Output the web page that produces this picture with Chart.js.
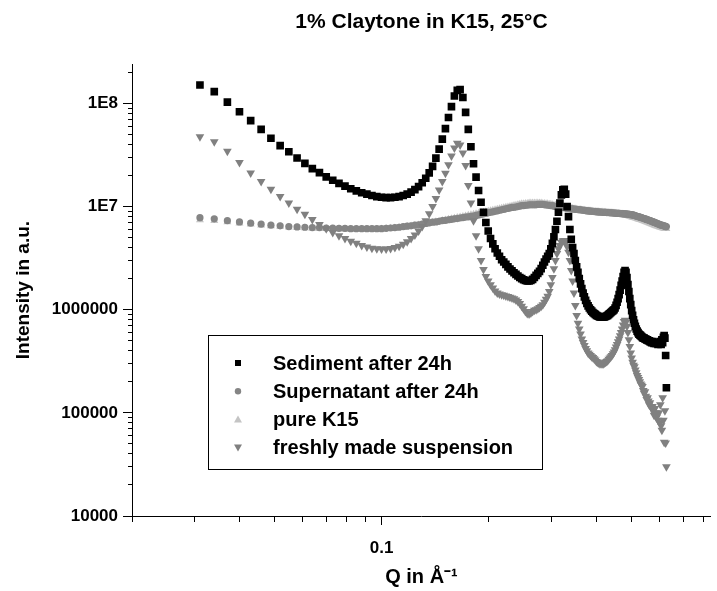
<!DOCTYPE html>
<html lang="en">
<head>
<meta charset="utf-8" />
<title>1% Claytone in K15, 25°C</title>
<script src="https://cdn.jsdelivr.net/npm/chart.js@4.4.1/dist/chart.umd.min.js"></script>
<style>
  body { margin: 0; background: #fff; overflow: hidden; }
  #wrap { width: 717px; height: 591px; }
</style>
</head>
<body>
<div id="wrap"><canvas id="saxs"></canvas></div>

<script>
// Q in 1/Angstrom, shared by all four measurements
const q = [
  0.031,0.034,0.037,0.040,0.043,0.046,0.049,0.052,0.055,0.058,
  0.061,0.064,0.067,0.070,0.073,0.076,0.079,0.082,0.085,0.088,
  0.091,0.094,0.097,0.100,0.103,0.106,0.109,0.112,0.115,0.118,
  0.121,0.124,0.127,0.130,0.133,0.136,0.139,0.142,0.145,0.148,
  0.151,0.154,0.157,0.160,0.163,0.166,0.169,0.172,0.175,0.178,
  0.181,0.184,0.187,0.190,0.193,0.196,0.199,0.202,0.205,0.208,
  0.211,0.214,0.217,0.220,0.223,0.226,0.229,0.232,0.235,0.238,
  0.241,0.244,0.247,0.250,0.253,0.256,0.259,0.262,0.265,0.268,
  0.271,0.274,0.277,0.280,0.283,0.286,0.289,0.292,0.295,0.298,
  0.301,0.304,0.307,0.310,0.313,0.316,0.319,0.322,0.325,0.328,
  0.331,0.334,0.337,0.340,0.343,0.346,0.349,0.352,0.355,0.358,
  0.361,0.364,0.367,0.370,0.373,0.376,0.379,0.382,0.385,0.388,
  0.391,0.394,0.397,0.400,0.403,0.406,0.409,0.412,0.415,0.418,
  0.421,0.424,0.427,0.430,0.433,0.436,0.439,0.442,0.445,0.448,
  0.451,0.454,0.457,0.460,0.463,0.466,0.469,0.472,0.475,0.478,
  0.481,0.484,0.487,0.490,0.493,0.496,0.499,0.502,0.505,0.508,
  0.511,0.514,0.517,0.520,0.523,0.526,0.529,0.532,0.535,0.538,
  0.541,0.544,0.547,0.550,0.553,0.556,0.559,0.562,0.565,0.568,
  0.571,0.574,0.577,0.580,0.583,0.586,0.589,0.592,0.595,0.598,
  0.601,0.604,0.607,0.610,0.613,0.616,0.619,0.622,0.625,0.628
];

const sediment = [
  1.51e8,1.30e8,1.03e8,8.3e7,6.8e7,5.6e7,4.6e7,3.9e7,3.4e7,2.96e7,
  2.62e7,2.33e7,2.13e7,1.94e7,1.80e7,1.68e7,1.58e7,1.49e7,1.42e7,1.36e7,
  1.32e7,1.28e7,1.25e7,1.23e7,1.22e7,1.22e7,1.23e7,1.25e7,1.28e7,1.32e7,
  1.38e7,1.46e7,1.56e7,1.70e7,1.88e7,2.12e7,2.45e7,2.95e7,3.6e7,4.5e7,
  5.7e7,7.3e7,9.3e7,1.18e8,1.34e8,1.36e8,1.14e8,8.2e7,5.6e7,3.8e7,
  2.6e7,1.93e7,1.43e7,1.10e7,8.8e6,7.0e6,5.8e6,4.9e6,4.35e6,3.9e6,
  3.55e6,3.3e6,3.05e6,2.9e6,2.75e6,2.6e6,2.48e6,2.38e6,2.28e6,2.2e6,
  2.12e6,2.05e6,2.0e6,1.95e6,1.92e6,1.9e6,1.9e6,1.92e6,1.97e6,2.05e6,
  2.15e6,2.25e6,2.35e6,2.5e6,2.7e6,2.9e6,3.1e6,3.3e6,3.5e6,3.9e6,
  4.4e6,5.1e6,6.0e6,7.2e6,8.8e6,1.08e7,1.3e7,1.45e7,1.47e7,1.32e7,
  1.0e7,8.0e6,6.0e6,4.8e6,4.0e6,3.5e6,3.0e6,2.6e6,2.3e6,2.0e6,
  1.78e6,1.6e6,1.45e6,1.33e6,1.23e6,1.15e6,1.09e6,1.04e6,1.0e6,9.7e5,
  9.4e5,9.2e5,9.0e5,8.8e5,8.7e5,8.6e5,8.5e5,8.5e5,8.5e5,8.5e5,
  8.5e5,8.6e5,8.7e5,8.8e5,9.0e5,9.2e5,9.4e5,9.6e5,9.8e5,1.0e6,
  1.04e6,1.1e6,1.18e6,1.28e6,1.4e6,1.55e6,1.72e6,1.9e6,2.1e6,2.3e6,
  2.4e6,2.3e6,2.05e6,1.75e6,1.5e6,1.28e6,1.12e6,9.8e5,8.8e5,8.0e5,
  7.4e5,6.9e5,6.5e5,6.2e5,6.0e5,5.8e5,5.7e5,5.6e5,5.5e5,5.4e5,
  5.3e5,5.3e5,5.2e5,5.2e5,5.1e5,5.1e5,5.0e5,5.0e5,4.9e5,4.9e5,
  4.8e5,4.9e5,4.8e5,4.7e5,4.8e5,4.7e5,4.8e5,4.7e5,4.6e5,4.8e5,
  4.7e5,4.9e5,4.6e5,5.1e5,4.8e5,5.4e5,5.6e5,5.3e5,3.6e5,1.75e5
];

const supernatant = [
  7.8e6,7.6e6,7.3e6,7.1e6,6.9e6,6.75e6,6.6e6,6.5e6,6.4e6,6.35e6,
  6.3e6,6.25e6,6.25e6,6.2e6,6.2e6,6.15e6,6.15e6,6.1e6,6.1e6,6.1e6,
  6.1e6,6.1e6,6.1e6,6.1e6,6.15e6,6.2e6,6.25e6,6.3e6,6.4e6,6.45e6,
  6.5e6,6.6e6,6.65e6,6.75e6,6.85e6,6.95e6,7.05e6,7.1e6,7.2e6,7.3e6,
  7.35e6,7.45e6,7.5e6,7.6e6,7.65e6,7.75e6,7.8e6,7.9e6,7.95e6,8.05e6,
  8.1e6,8.2e6,8.3e6,8.4e6,8.5e6,8.6e6,8.7e6,8.8e6,8.9e6,9.0e6,
  9.1e6,9.2e6,9.3e6,9.4e6,9.5e6,9.6e6,9.7e6,9.8e6,9.85e6,9.9e6,
  1.0e7,1.01e7,1.02e7,1.02e7,1.03e7,1.03e7,1.04e7,1.04e7,1.04e7,1.04e7,
  1.04e7,1.05e7,1.05e7,1.05e7,1.05e7,1.04e7,1.04e7,1.03e7,1.03e7,1.02e7,
  1.02e7,1.01e7,1.0e7,1.0e7,9.95e6,9.9e6,9.85e6,9.8e6,9.75e6,9.7e6,
  9.65e6,9.6e6,9.55e6,9.5e6,9.5e6,9.45e6,9.4e6,9.4e6,9.35e6,9.3e6,
  9.3e6,9.25e6,9.2e6,9.2e6,9.15e6,9.1e6,9.1e6,9.05e6,9.05e6,9.0e6,
  9.0e6,8.95e6,8.95e6,8.9e6,8.9e6,8.85e6,8.85e6,8.85e6,8.8e6,8.8e6,
  8.8e6,8.8e6,8.75e6,8.75e6,8.75e6,8.7e6,8.7e6,8.7e6,8.65e6,8.65e6,
  8.65e6,8.6e6,8.6e6,8.6e6,8.6e6,8.55e6,8.55e6,8.55e6,8.5e6,8.5e6,
  8.5e6,8.5e6,8.45e6,8.45e6,8.4e6,8.4e6,8.35e6,8.35e6,8.3e6,8.25e6,
  8.2e6,8.15e6,8.1e6,8.05e6,8.0e6,7.95e6,7.9e6,7.85e6,7.8e6,7.75e6,
  7.7e6,7.65e6,7.6e6,7.55e6,7.5e6,7.45e6,7.4e6,7.35e6,7.3e6,7.25e6,
  7.2e6,7.15e6,7.1e6,7.05e6,7.0e6,6.95e6,6.9e6,6.85e6,6.8e6,6.75e6,
  6.7e6,6.65e6,6.6e6,6.6e6,6.55e6,6.5e6,6.5e6,6.45e6,6.4e6,6.4e6
];

const pureK15 = [
  7.4e6,7.3e6,7.1e6,6.9e6,6.75e6,6.6e6,6.5e6,6.4e6,6.3e6,6.25e6,
  6.2e6,6.15e6,6.1e6,6.1e6,6.05e6,6.05e6,6.0e6,6.0e6,6.0e6,6.0e6,
  6.0e6,6.0e6,6.0e6,6.05e6,6.1e6,6.15e6,6.2e6,6.25e6,6.3e6,6.4e6,
  6.45e6,6.55e6,6.6e6,6.7e6,6.8e6,6.9e6,7.0e6,7.1e6,7.2e6,7.3e6,
  7.4e6,7.5e6,7.6e6,7.7e6,7.8e6,7.9e6,8.0e6,8.1e6,8.2e6,8.3e6,
  8.4e6,8.5e6,8.6e6,8.7e6,8.8e6,8.9e6,9.0e6,9.1e6,9.2e6,9.3e6,
  9.4e6,9.5e6,9.6e6,9.7e6,9.8e6,9.9e6,1.0e7,1.01e7,1.02e7,1.03e7,
  1.04e7,1.05e7,1.06e7,1.06e7,1.07e7,1.07e7,1.08e7,1.08e7,1.08e7,1.08e7,
  1.08e7,1.08e7,1.08e7,1.08e7,1.07e7,1.07e7,1.06e7,1.06e7,1.05e7,1.05e7,
  1.04e7,1.03e7,1.03e7,1.02e7,1.01e7,1.0e7,9.95e6,9.9e6,9.85e6,9.8e6,
  9.75e6,9.7e6,9.65e6,9.6e6,9.55e6,9.5e6,9.45e6,9.4e6,9.35e6,9.3e6,
  9.3e6,9.25e6,9.2e6,9.2e6,9.15e6,9.1e6,9.1e6,9.05e6,9.05e6,9.0e6,
  9.0e6,8.95e6,8.95e6,8.9e6,8.9e6,8.9e6,8.85e6,8.85e6,8.85e6,8.8e6,
  8.8e6,8.8e6,8.75e6,8.75e6,8.75e6,8.7e6,8.7e6,8.7e6,8.65e6,8.65e6,
  8.6e6,8.6e6,8.55e6,8.55e6,8.5e6,8.5e6,8.45e6,8.45e6,8.4e6,8.35e6,
  8.3e6,8.25e6,8.2e6,8.15e6,8.1e6,8.05e6,8.0e6,7.95e6,7.9e6,7.85e6,
  7.8e6,7.75e6,7.7e6,7.65e6,7.6e6,7.55e6,7.5e6,7.45e6,7.4e6,7.35e6,
  7.3e6,7.25e6,7.2e6,7.15e6,7.1e6,7.05e6,7.0e6,6.95e6,6.9e6,6.85e6,
  6.8e6,6.75e6,6.7e6,6.65e6,6.6e6,6.55e6,6.5e6,6.5e6,6.45e6,6.4e6,
  6.35e6,6.3e6,6.3e6,6.25e6,6.2e6,6.2e6,6.15e6,6.15e6,6.1e6,6.1e6
];

const freshSuspension = [
  4.76e7,4.25e7,3.43e7,2.68e7,2.12e7,1.75e7,1.47e7,1.25e7,1.08e7,9.4e6,
  8.4e6,7.5e6,6.7e6,6.1e6,5.6e6,5.2e6,4.9e6,4.6e6,4.4e6,4.2e6,
  4.05e6,3.95e6,3.9e6,3.88e6,3.88e6,3.92e6,4.0e6,4.12e6,4.3e6,4.55e6,
  4.9e6,5.3e6,5.8e6,6.4e6,7.3e6,8.5e6,1.0e7,1.2e7,1.45e7,1.75e7,
  2.1e7,2.55e7,3.1e7,3.7e7,4.1e7,3.95e7,3.3e7,2.5e7,1.6e7,1.08e7,
  7.3e6,5.2e6,3.9e6,3.0e6,2.45e6,2.1e6,1.9e6,1.75e6,1.62e6,1.52e6,
  1.45e6,1.42e6,1.4e6,1.38e6,1.36e6,1.34e6,1.32e6,1.3e6,1.28e6,1.24e6,
  1.2e6,1.15e6,1.08e6,1.02e6,9.6e5,9.2e5,9.1e5,9.3e5,9.6e5,9.9e5,
  1.0e6,1.02e6,1.05e6,1.08e6,1.12e6,1.18e6,1.26e6,1.35e6,1.5e6,1.75e6,
  2.05e6,2.5e6,3.0e6,3.5e6,3.9e6,4.2e6,4.5e6,4.65e6,4.7e6,4.5e6,
  4.1e6,3.6e6,3.0e6,2.4e6,1.9e6,1.45e6,1.1e6,8.8e5,7.4e5,6.5e5,
  5.8e5,5.2e5,4.8e5,4.5e5,4.2e5,4.0e5,3.8e5,3.7e5,3.6e5,3.5e5,
  3.45e5,3.35e5,3.25e5,3.15e5,3.1e5,3.05e5,3.0e5,3.0e5,3.0e5,3.0e5,
  3.05e5,3.1e5,3.15e5,3.2e5,3.3e5,3.4e5,3.5e5,3.6e5,3.75e5,3.9e5,
  4.1e5,4.35e5,4.6e5,4.9e5,5.2e5,5.6e5,6.0e5,6.5e5,7.1e5,7.7e5,
  7.9e5,7.6e5,6.9e5,6.0e5,5.1e5,4.4e5,3.8e5,3.4e5,3.1e5,2.9e5,
  2.8e5,2.6e5,2.45e5,2.3e5,2.2e5,2.1e5,2.0e5,1.9e5,1.85e5,1.8e5,
  1.65e5,1.55e5,1.6e5,1.45e5,1.35e5,1.4e5,1.3e5,1.2e5,1.25e5,1.15e5,
  1.1e5,1.15e5,1.05e5,9.5e4,1.1e5,1.0e5,9.0e4,9.5e4,8.5e4,1.0e5,
  8.0e4,1.2e5,7.5e4,6.8e4,1.4e5,8.5e4,5.2e4,1.05e5,5.1e4,3.0e4
];

const seriesNames = ['Sediment after 24h', 'Supernatant after 24h', 'pure K15', 'freshly made suspension'];

// axis ticks
const xTicks = [0.02,0.03,0.04,0.05,0.06,0.07,0.08,0.09,0.1,0.2,0.3,0.4,0.5,0.6,0.7,0.8];
const xTickLabels = { 0.1: '0.1' };
const yDecades = [1e4, 1e5, 1e6, 1e7, 1e8];
const yTickLabels = ['10000', '100000', '1000000', '1E7', '1E8'];

const FONT = '"Liberation Sans", Arial, Helvetica, sans-serif';

function pts(arr) {
  return q.map((x, i) => ({x: x, y: arr[i]}));
}

function isDecade(v) {
  const l = Math.log10(v);
  return Math.abs(l - Math.round(l)) < 1e-6;
}

// legend box drawn inside the plot, like the original figure
const boxLegend = {
  id: 'boxLegend',
  afterDatasetsDraw(chart) {
    const ctx = chart.ctx;
    const area = chart.chartArea;
    const left = Math.round(area.left + 76), top = Math.round(area.top + 271);
    const w = 334, h = 134;
    ctx.save();
    ctx.fillStyle = '#fff';
    ctx.fillRect(left, top, w, h);
    ctx.strokeStyle = '#000';
    ctx.lineWidth = 1;
    ctx.strokeRect(left + 0.5, top + 0.5, w, h);
    ctx.font = 'bold 20px ' + FONT;
    ctx.textBaseline = 'middle';
    ctx.textAlign = 'left';
    chart.data.datasets.forEach((ds, i) => {
      const y = top + 28 + i * 28.2;
      const x = left + 30;
      ctx.fillStyle = ds.backgroundColor;
      ctx.beginPath();
      if (ds.pointStyle === 'rect') {
        ctx.rect(x - 3, y - 3, 6, 6);
      } else if (ds.pointStyle === 'circle') {
        ctx.arc(x, y, 3.2, 0, Math.PI * 2);
      } else if (ds.rotation === 180) {
        ctx.moveTo(x - 4, y - 3); ctx.lineTo(x + 4, y - 3); ctx.lineTo(x, y + 4);
      } else {
        ctx.moveTo(x - 4, y + 3); ctx.lineTo(x + 4, y + 3); ctx.lineTo(x, y - 4);
      }
      ctx.closePath();
      ctx.fill();
      ctx.fillStyle = '#000';
      ctx.fillText(ds.label, left + 65, y + 1);
    });
    ctx.restore();
  }
};

const ctx = document.getElementById('saxs').getContext('2d');
new Chart(ctx, {
  type: 'scatter',
  data: {
    datasets: [
      { label: seriesNames[0], data: pts(sediment), pointStyle: 'rect', pointRadius: 5.4,
        backgroundColor: '#000', borderColor: '#000', borderWidth: 0, order: 0 },
      { label: seriesNames[1], data: pts(supernatant), pointStyle: 'circle', pointRadius: 3.6,
        backgroundColor: '#858585', borderColor: '#858585', borderWidth: 0, order: 2 },
      { label: seriesNames[2], data: pts(pureK15), pointStyle: 'triangle', pointRadius: 4.6,
        backgroundColor: '#c4c4c4', borderColor: '#c4c4c4', borderWidth: 0, order: 3 },
      { label: seriesNames[3], data: pts(freshSuspension), pointStyle: 'triangle', rotation: 180,
        pointRadius: 5, backgroundColor: '#808080', borderColor: '#808080', borderWidth: 0, order: 1 }
    ]
  },
  options: {
    responsive: true,
    maintainAspectRatio: false,
    animation: false,
    layout: { padding: 0 },
    plugins: {
      legend: { display: false },
      tooltip: { enabled: false },
      title: {
        display: true,
        fullSize: false,
        text: '1% Claytone in K15, 25°C',
        color: '#000',
        font: { family: FONT, size: 21, weight: 'bold' },
        padding: { top: 10, bottom: 29 }
      }
    },
    scales: {
      x: {
        type: 'logarithmic',
        min: 0.02,
        max: 0.837,
        afterBuildTicks: (scale) => { scale.ticks = xTicks.map(v => ({value: v})); },
        afterFit: (scale) => { scale.height = 75; },
        ticks: {
          autoSkip: false,
          maxRotation: 0,
          color: '#000',
          padding: 13,
          font: { family: FONT, size: 17, weight: 'bold' },
          callback: (v) => xTickLabels[v] || ''
        },
        grid: {
          drawOnChartArea: false,
          tickLength: 9,
          tickColor: '#000',
          tickBorderDash: (c) => isDecade(c.tick.value) ? [] : [5, 100]
        },
        border: { color: '#000', width: 1 },
        title: {
          display: true,
          text: 'Q in Å⁻¹',
          color: '#000',
          font: { family: FONT, size: 20, weight: 'bold' },
          padding: { top: 0, bottom: 2 }
        }
      },
      y: {
        type: 'logarithmic',
        min: 1e4,
        max: 2.4e8,
        afterBuildTicks: (scale) => {
          const t = [];
          yDecades.forEach(d => {
            for (let k = 1; k <= 9; k++) {
              if (d * k <= scale.max) t.push({value: d * k});
            }
          });
          scale.ticks = t;
        },
        afterFit: (scale) => { scale.width = 132; },
        ticks: {
          autoSkip: false,
          color: '#000',
          padding: 5,
          font: { family: FONT, size: 17, weight: 'bold' },
          callback: (v) => {
            const i = yDecades.findIndex(d => Math.abs(d - v) < d * 1e-6);
            return i >= 0 ? yTickLabels[i] : '';
          }
        },
        grid: {
          drawOnChartArea: false,
          tickLength: 9,
          tickColor: '#000',
          tickBorderDash: (c) => isDecade(c.tick.value) ? [] : [0, 5, 4, 100]
        },
        border: { color: '#000', width: 1 },
        title: {
          display: true,
          text: 'Intensity in a.u.',
          color: '#000',
          font: { family: FONT, size: 19, weight: 'bold' },
          padding: { top: 12, bottom: 0 }
        }
      }
    }
  },
  plugins: [boxLegend]
});
</script>
</body>
</html>
